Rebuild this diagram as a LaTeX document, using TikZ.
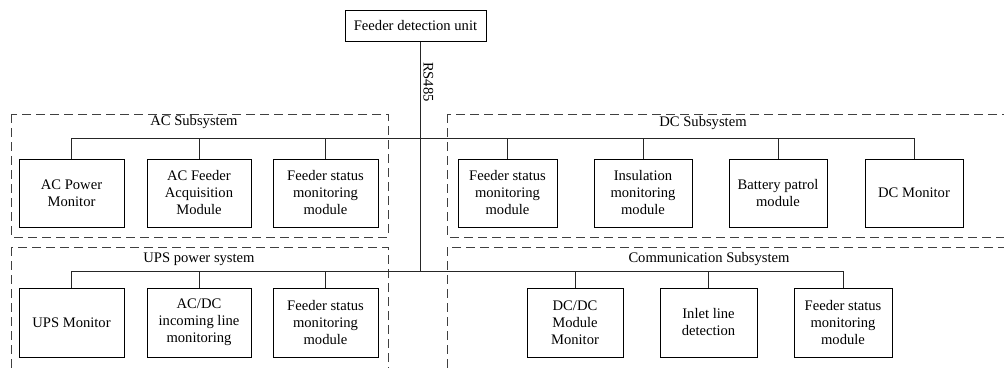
\documentclass[tikz,border=0pt]{standalone}
\usepackage{fontspec}
\setmainfont{Liberation Serif}
\begin{document}
\begin{tikzpicture}[x=1pt,y=-1pt,
  txt/.style={font=\fontsize{14.6}{17}\selectfont, inner sep=0pt},
  mod/.style={draw=black, line width=1pt, align=center, inner sep=0pt, minimum height=68pt,
    font=\fontsize{14.6}{17}\selectfont},
  grp/.style={draw=black!75, line width=0.9pt, dash pattern=on 9pt off 5pt},
  link/.style={draw=black!85, line width=0.9pt}]
\useasboundingbox (0,0) rectangle (1004,367);
\clip (0,0) rectangle (1004,367);
\fill[white] (0,0) rectangle (1004,367);

% dashed group frames
\draw[grp] (11,114) rectangle (388,237);
\draw[grp] (447,114) rectangle (1012,237);
\draw[grp] (11,247) rectangle (388,375);
\draw[grp] (447,247) rectangle (1012,375);

% top unit
\node[draw=black, line width=1pt, minimum width=141pt, minimum height=31pt, inner sep=0pt,
  font=\fontsize{14.6}{17}\selectfont] (fdu) at (415.5,25.5) {Feeder detection unit};

% junctions
\coordinate (jA) at (420,138);
\coordinate (jB) at (420,271);

% group labels
\node[txt] (lac) at (194,122) {AC Subsystem};
\node[txt] (ldc) at (703,123) {DC Subsystem};
\node[txt] (lups) at (199,259) {UPS power system};
\node[txt] (lcom) at (709,259) {Communication Subsystem};
\node[txt, rotate=-90] (rs) at (428.5,82) {RS485};

% AC modules
\node[mod, minimum width=105pt] (ac1) at (71.5,193) {AC Power\\Monitor};
\node[mod, minimum width=104pt] (ac2) at (199,193) {AC Feeder\\Acquisition\\Module};
\node[mod, minimum width=105pt] (ac3) at (325.5,193) {Feeder status\\monitoring\\module};

% DC modules
\node[mod, minimum width=99pt] (dc1) at (507.5,193) {Feeder status\\monitoring\\module};
\node[mod, minimum width=98pt] (dc2) at (643,193) {Insulation\\monitoring\\module};
\node[mod, minimum width=98pt] (dc3) at (778,193) {Battery patrol\\module};
\node[mod, minimum width=98pt] (dc4) at (914,193) {DC Monitor};

% UPS modules
\node[mod, minimum width=105pt, minimum height=69pt] (up1) at (71.5,322.5) {UPS Monitor};
\node[mod, minimum width=104pt, minimum height=69pt] (up2) at (199,322.5) {AC/DC\\incoming line\\monitoring};
\node[mod, minimum width=105pt, minimum height=69pt] (up3) at (325.5,322.5) {Feeder status\\monitoring\\module};

% Communication modules
\node[mod, minimum width=96pt, minimum height=69pt] (cm1) at (575,322.5) {DC/DC\\Module\\Monitor};
\node[mod, minimum width=97pt, minimum height=69pt] (cm2) at (708.5,322.5) {Inlet line\\detection};
\node[mod, minimum width=98pt, minimum height=69pt] (cm3) at (843,322.5) {Feeder status\\monitoring\\module};

% trunk
\draw[link] (fdu.south -| jA) -- (jB);

% branches
\foreach \n in {ac1,ac2,ac3,dc1,dc2,dc3,dc4}{
  \draw[link] (\n.north) |- (jA);
}
\foreach \n in {up1,up2,up3,cm1,cm2,cm3}{
  \draw[link] (\n.north) |- (jB);
}
\end{tikzpicture}
\end{document}
